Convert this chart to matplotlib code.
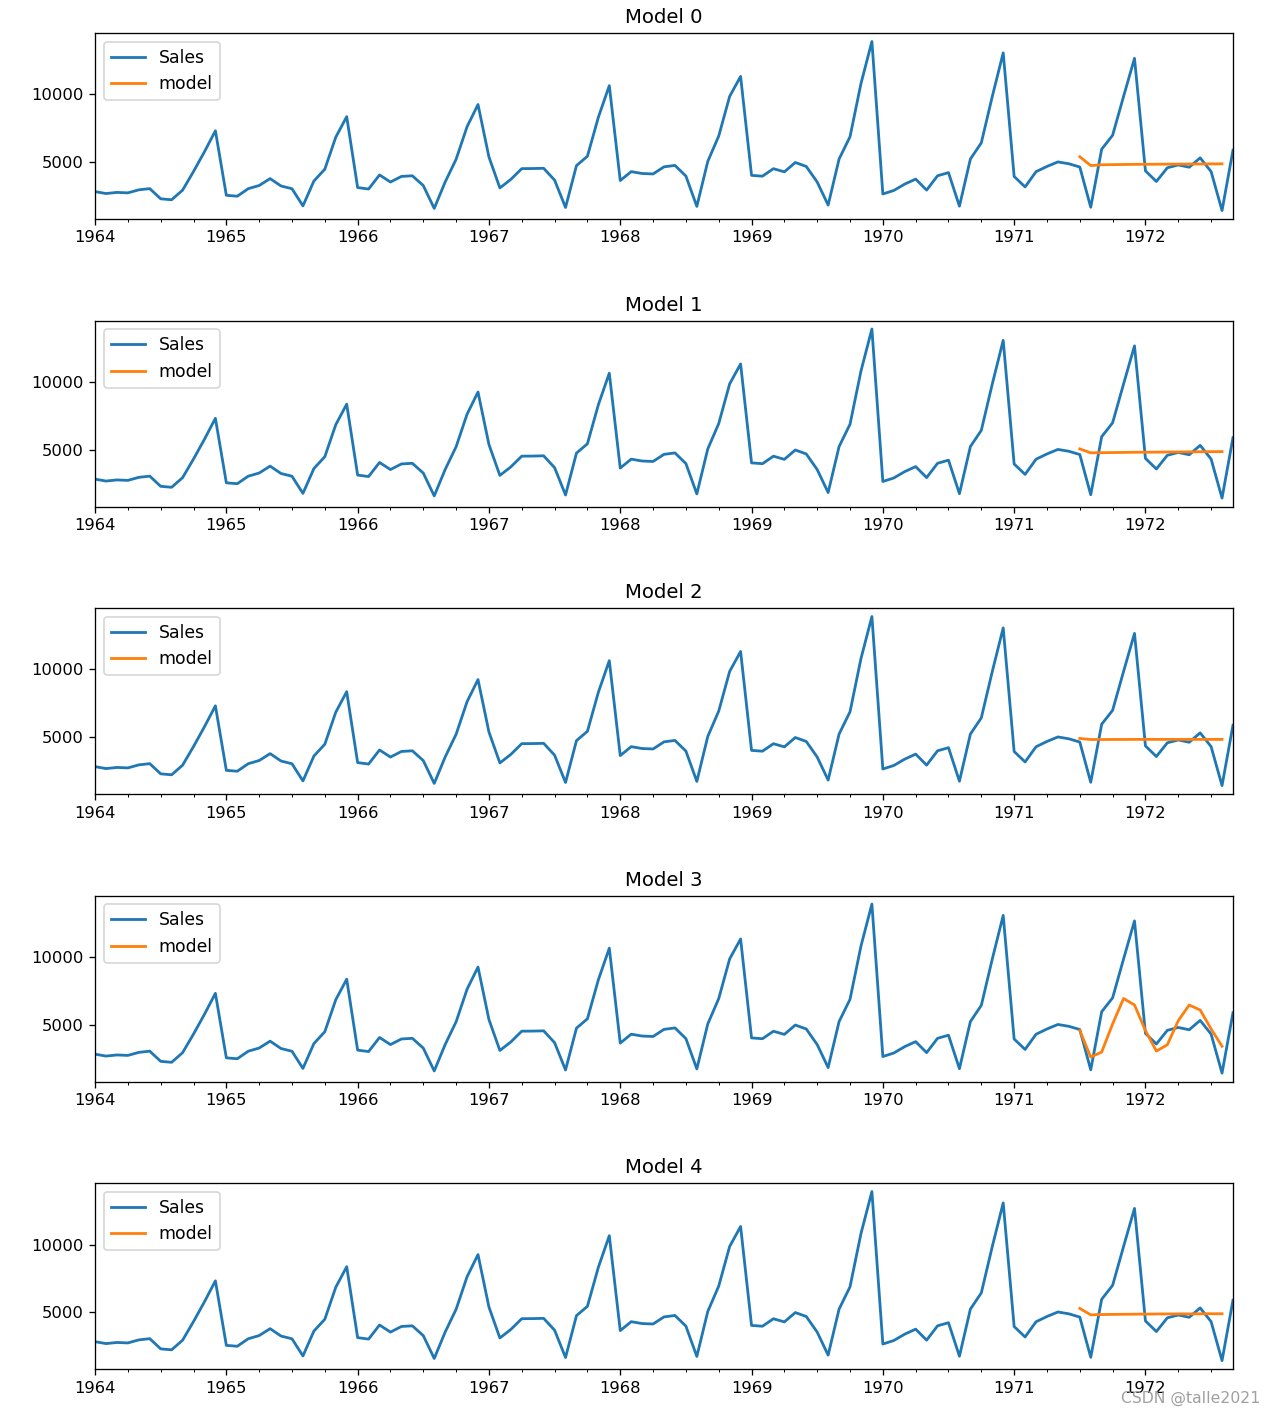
import numpy as np
import pandas as pd
import matplotlib
matplotlib.use("Agg")
import matplotlib.pyplot as plt

# monthly champagne sales, 1964-01 .. 1972-09
sales = [
    2815, 2672, 2755, 2721, 2946, 3036, 2282, 2212, 2922, 4301, 5764, 7312,
    2541, 2475, 3031, 3266, 3776, 3230, 3028, 1759, 3595, 4474, 6838, 8357,
    3113, 3006, 4047, 3523, 3937, 3986, 3260, 1573, 3528, 5211, 7614, 9254,
    5375, 3088, 3718, 4514, 4520, 4539, 3663, 1643, 4739, 5428, 8314, 10651,
    3633, 4292, 4154, 4121, 4647, 4753, 3965, 1723, 5048, 6922, 9858, 11331,
    4016, 3957, 4510, 4276, 4968, 4677, 3523, 1821, 5222, 6872, 10803, 13916,
    2639, 2899, 3370, 3740, 2927, 3986, 4217, 1738, 5221, 6424, 9842, 13076,
    3934, 3162, 4286, 4676, 5010, 4874, 4633, 1659, 5951, 6981, 9851, 12670,
    4348, 3564, 4577, 4788, 4618, 5312, 4298, 1413, 5877,
]

# forecasts, 1971-07 .. 1972-08
model0 = [5390, 4740, 4800, 4810, 4820, 4830, 4835, 4840, 4845, 4850, 4855, 4860, 4865, 4870]
model1 = [5050, 4760, 4770, 4780, 4790, 4800, 4805, 4810, 4820, 4825, 4830, 4840, 4845, 4850]
model2 = [4900, 4820, 4820, 4825, 4825, 4830, 4830, 4830, 4830, 4830, 4830, 4830, 4830, 4830]
model3 = [4560, 2600, 2970, 5050, 6930, 6450, 4560, 3040, 3510, 5290, 6450, 6080, 4680, 3400]
model4 = [5270, 4800, 4820, 4830, 4840, 4850, 4855, 4860, 4865, 4870, 4870, 4875, 4880, 4880]

models = [model0, model1, model2, model3, model4]
titles = ["Model 0", "Model 1", "Model 2", "Model 3", "Model 4"]

idx = pd.date_range("1964-01-01", periods=len(sales), freq="MS")
df = pd.DataFrame({"Sales": sales}, index=idx)
fc_idx = pd.date_range("1971-07-01", periods=len(model0), freq="MS")

DPI = 118
fig, axes = plt.subplots(5, 1, figsize=(1274 / DPI, 1412 / DPI), dpi=DPI)
fig.subplots_adjust(left=0.0746, right=0.9678, top=0.9766, bottom=0.0304, hspace=0.546)

for ax, fc, title in zip(axes, models, titles):
    df["Sales"].plot(ax=ax, label="Sales", lw=1.7)
    pd.Series(fc, index=fc_idx).plot(ax=ax, label="model", lw=1.7)
    ax.set_title(title)
    ax.set_xlabel("")
    ax.legend(loc="upper left", fontsize=10.5, handletextpad=0.8)

fig.text(0.989, 0.004, "CSDN @talle2021", ha="right", va="bottom",
         fontsize=9.5, color="#a0a0a0")

plt.savefig("out.png", dpi=DPI)
